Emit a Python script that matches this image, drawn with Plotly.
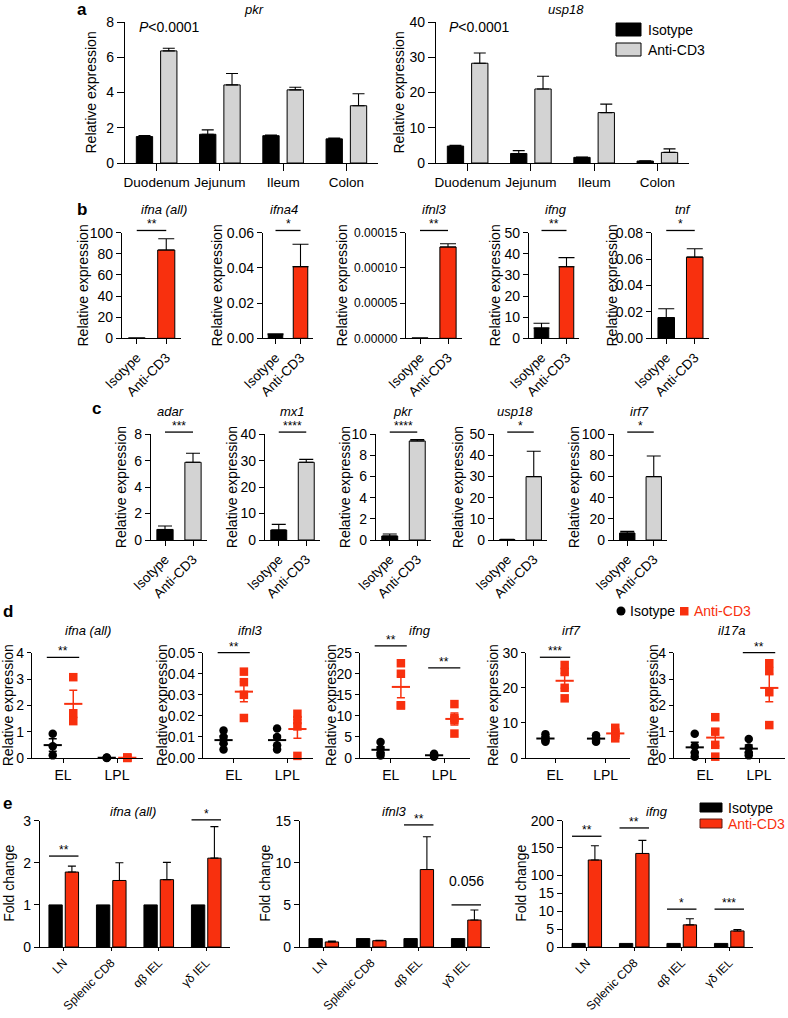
import numpy as np
import plotly.graph_objects as go

W, H = 788, 1018
FONT = "Liberation Sans, Arial, Helvetica, sans-serif"
BLACK = "#000000"
RED = "#f8300e"
GRAY = "#d3d3d3"
FS = 13

# ====================== DATA ======================
# ---- panel a ----
a_regions = ["Duodenum", "Jejunum", "Ileum", "Colon"]
a_pkr_iso = [1.50, 1.63, 1.55, 1.37]
a_pkr_iso_err = [0.06, 0.25, 0.03, 0.04]
a_pkr_cd3 = [6.36, 4.43, 4.15, 3.25]
a_pkr_cd3_err = [0.15, 0.65, 0.15, 0.68]
a_usp18_iso = [4.8, 2.7, 1.6, 0.55]
a_usp18_iso_err = [0.25, 0.8, 0.1, 0.1]
a_usp18_cd3 = [28.3, 21.0, 14.3, 3.0]
a_usp18_cd3_err = [2.9, 3.6, 2.4, 1.0]
a_genes = ["pkr", "usp18"]
a_ymax = [8, 40]
a_ystep = [2, 10]
a_pvalue = "<i>P</i>&lt;0.0001"

# ---- panel b ----
treatments = ["Isotype", "Anti-CD3"]
b_genes = ["ifna (all)", "ifna4", "ifnl3", "ifng", "tnf"]
b_iso = [0.2, 0.0021, 0.0000003, 4.9, 0.0157]
b_iso_err = [0.1, 0.0005, 0.0, 2.2, 0.0067]
b_cd3 = [83.6, 0.0407, 0.0001297, 33.9, 0.0615]
b_cd3_err = [10.6, 0.0127, 0.0000045, 4.3, 0.0063]
b_ymax = [100, 0.06, 0.00015, 50, 0.08]
b_ystep = [20, 0.02, 0.00005, 10, 0.02]
b_stars = ["**", "*", "**", "**", "*"]

# ---- panel c ----
c_genes = ["adar", "mx1", "pkr", "usp18", "irf7"]
c_iso = [0.8, 3.8, 0.38, 0.2, 6.6]
c_iso_err = [0.26, 2.1, 0.19, 0.1, 1.6]
c_cd3 = [5.88, 29.4, 9.37, 30.0, 60.0]
c_cd3_err = [0.69, 1.1, 0.13, 12.0, 19.5]
c_ymax = [8, 40, 10, 50, 100]
c_ystep = [2, 10, 2, 10, 20]
c_stars = ["***", "****", "****", "*", "*"]

# ---- panel d (individual mice; [EL, LPL]) ----
d_sites = ["EL", "LPL"]
d_genes = ["ifna (all)", "ifnl3", "ifng", "irf7", "il17a"]
d_ifna_iso = [[0.92, 0.45, 0.10], [0.02, 0.01, 0.00]]
d_ifna_cd3 = [[3.07, 1.70, 1.40], [0.02, 0.01, 0.00]]
d_ifnl3_iso = [[0.013, 0.010, 0.007, 0.004], [0.014, 0.010, 0.006, 0.004]]
d_ifnl3_cd3 = [[0.041, 0.036, 0.030, 0.019], [0.021, 0.018, 0.015, 0.001]]
d_ifng_iso = [[3.8, 2.2, 1.2, 0.6], [1.0, 0.8, 0.5, 0.3]]
d_ifng_cd3 = [[22.5, 20.0, 12.5, 12.5], [12.8, 9.5, 9.0, 5.8]]
d_irf7_iso = [[6.8, 5.8, 5.0, 4.6], [6.5, 5.8, 5.2, 4.6]]
d_irf7_cd3 = [[26.5, 24.5, 20.0, 17.0], [8.6, 7.2, 6.6, 5.6]]
d_il17a_iso = [[0.92, 0.45, 0.20, 0.05], [0.72, 0.40, 0.20, 0.10]]
d_il17a_cd3 = [[1.55, 1.00, 0.50, 0.05], [3.60, 3.30, 2.50, 1.25]]
d_ymax = [4, 0.05, 25, 30, 4]
d_ystep = [1, 0.01, 5, 10, 1]

# ---- panel e ----
e_cells = ["LN", "Splenic CD8", "αβ IEL", "γδ IEL"]
e_genes = ["ifna (all)", "ifnl3", "ifng"]
e_ifna_iso = [1, 1, 1, 1]
e_ifna_cd3 = [1.78, 1.58, 1.60, 2.11]
e_ifna_cd3_err = [0.14, 0.42, 0.41, 0.75]
e_ifnl3_iso = [1, 1, 1, 1]
e_ifnl3_cd3 = [0.60, 0.75, 9.20, 3.20]
e_ifnl3_cd3_err = [0.10, 0.04, 3.90, 1.20]
e_ifng_iso = [1, 1, 1, 1]
e_ifng_cd3 = [128, 140, 6.2, 4.5]
e_ifng_cd3_err = [26, 24, 1.7, 0.4]
e_ifng_ticks = [0, 5, 10, 15, 100, 150, 200]

# significance brackets: (subplot, from, to, height, label)
d_brackets = [(0, -0.3, 0.3, 3.82, "**"), (1, -0.3, 0.3, 0.05, "**"),
              (2, -0.3, 0.3, 26.6, "**"), (2, 0.7, 1.3, 21.4, "**"),
              (3, -0.3, 0.3, 28.7, "***"), (4, 0.7, 1.3, 4.0, "**")]
e_brackets = [(0, 0, 2.16, "**"), (0, 3, 3.02, "*"), (1, 2, 14.5, "**"),
              (1, 3, 5.0, "0.056"), (2, 0, 171.5, "**"), (2, 1, 186.7, "**"),
              (2, 2, 10.6, "*"), (2, 3, 10.6, "***")]

# ====================== LAYOUT GEOMETRY (pixels) ======================
A_BOX = [(125, 378, 22, 163), (436, 689, 22, 163)]
B_X = [(122, 181), (263, 313), (406, 462), (529, 579), (652, 709)]
B_Y = (232.7, 338.3)
C_X = [(151, 207), (265, 320), (376, 431), (494, 547), (614, 667)]
C_Y = (434.3, 540)
D_X = [(32, 143), (203, 313), (360, 470), (526, 630), (674, 785)]
D_Y = (652.7, 758)
E_X = [(40, 230), (300, 490), (563, 753)]
E_Y = (820.7, 947)

fig = go.Figure()
LAYOUT = {}
AX = {}
ANN = []
SHP = []


def px(x):
    return x / W


def py(y):
    return 1.0 - y / H


def nm(i):
    return "" if i == 1 else str(i)


def tf(size):
    return dict(family=FONT, size=size, color=BLACK)


def setup_axes(i, box, xr, yr, xextra=None, yextra=None, ticklen=5):
    x0, x1, yt, yb = box
    AX[i] = dict(box=box, xr=xr, yr=yr)
    base = dict(showline=True, linecolor=BLACK, linewidth=1.2, ticks="outside",
                ticklen=ticklen, tickwidth=1.2, tickcolor=BLACK, showgrid=False,
                zeroline=False, fixedrange=True, automargin=False,
                tickfont=tf(FS))
    xa = dict(base, domain=[px(x0), px(x1)], anchor="y" + nm(i), range=xr)
    ya = dict(base, domain=[py(yb), py(yt)], anchor="x" + nm(i), range=yr)
    if xextra:
        xa.update(xextra)
    if yextra:
        ya.update(yextra)
    LAYOUT["xaxis" + nm(i)] = xa
    LAYOUT["yaxis" + nm(i)] = ya
    return dict(xaxis="x" + nm(i), yaxis="y" + nm(i))


def to_paper(i, xv, yv):
    x0, x1, yt, yb = AX[i]["box"]
    xr, yr = AX[i]["xr"], AX[i]["yr"]
    xp = x0 + (xv - xr[0]) / (xr[1] - xr[0]) * (x1 - x0)
    yp = yb - (yv - yr[0]) / (yr[1] - yr[0]) * (yb - yt)
    return px(xp), py(yp)


def text(x, y, s, size=FS, color=BLACK, xanchor="center", angle=0):
    ANN.append(dict(x=px(x), y=py(y), xref="paper", yref="paper", text=s,
                    showarrow=False, xanchor=xanchor, yanchor="middle",
                    textangle=angle, font=dict(family=FONT, size=size, color=color)))


def bracket(i, xa, xb, yv, s):
    xa_p, y_p = to_paper(i, xa, yv)
    xb_p, _ = to_paper(i, xb, yv)
    SHP.append(dict(type="line", xref="paper", yref="paper", x0=xa_p, x1=xb_p,
                    y0=y_p, y1=y_p, line=dict(color=BLACK, width=1.3)))
    is_num = s[0].isdigit()
    ANN.append(dict(x=(xa_p + xb_p) / 2, y=y_p, xref="paper", yref="paper", text=s,
                    showarrow=False, xanchor="center", yanchor="middle",
                    yshift=24 if is_num else 6,
                    font=dict(family=FONT, size=FS + 1 if is_num else 12, color=BLACK)))


def add_bar(ref, cats, vals, errs, color, w, off, cap):
    n = len(cats)
    if errs is None:
        eb = dict(visible=False)
    else:
        eb = dict(type="data", symmetric=False, array=errs, arrayminus=[0] * n,
                  color=BLACK, thickness=1.1, width=cap)
    fig.add_trace(go.Bar(x=cats, y=vals, width=w, offset=off, error_y=eb,
                         marker=dict(color=color, line=dict(color=BLACK, width=1)),
                         showlegend=False, hoverinfo="skip", **ref))


def cat_range(n):
    return [-0.5, n - 0.5]


idx = 0

# ---------------- panel a ----------------
a_sets = [(a_pkr_iso, a_pkr_iso_err, a_pkr_cd3, a_pkr_cd3_err),
          (a_usp18_iso, a_usp18_iso_err, a_usp18_cd3, a_usp18_cd3_err)]
AW, AG = 0.258, 0.126
a_title = [(254, 9), (566, 9)]
a_ylab = [91, 399]
a_pv = [(137, 27), (447, 27)]
for k in range(2):
    idx += 1
    iso, iso_e, cd3, cd3_e = a_sets[k]
    ref = setup_axes(idx, A_BOX[k], cat_range(len(a_regions)), [0, a_ymax[k]],
                     xextra=dict(type="category", tickangle=0, tickfont=tf(13.5)),
                     yextra=dict(tickmode="linear", tick0=0, dtick=a_ystep[k],
                                 tickfont=tf(14)),
                     ticklen=7)
    add_bar(ref, a_regions, iso, iso_e, BLACK, AW, -(AG / 2 + AW), 6)
    add_bar(ref, a_regions, cd3, cd3_e, GRAY, AW, AG / 2, 6)
    text(*a_title[k], "<i>%s</i>" % a_genes[k])
    text(a_ylab[k], (A_BOX[k][2] + A_BOX[k][3]) / 2, "Relative expression", size=14, angle=-90)
    text(a_pv[k][0], a_pv[k][1], a_pvalue, size=14, xanchor="left")

# legend a
SHP.append(dict(type="rect", xref="paper", yref="paper", x0=px(616), x1=px(641),
                y0=py(36), y1=py(23), fillcolor=BLACK, line=dict(color=BLACK, width=1)))
SHP.append(dict(type="rect", xref="paper", yref="paper", x0=px(616), x1=px(641),
                y0=py(56), y1=py(43), fillcolor=GRAY, line=dict(color=BLACK, width=1)))
text(646, 29.5, treatments[0], size=14, xanchor="left")
text(646, 49.5, treatments[1], size=14, xanchor="left")


# ---------------- panels b, c (single bars) ----------------
def single_panel(boxx, boxy, gene, iso, iso_e, cd3, cd3_e, color, ymax, ystep,
                 star, tfmt, title_x, title_y, ylab_x, cap, yfs):
    global idx
    idx += 1
    box = (boxx[0], boxx[1], boxy[0], boxy[1])
    ref = setup_axes(idx, box, cat_range(2), [0, ymax],
                     xextra=dict(type="category", tickangle=-45, tickfont=tf(13.5)),
                     yextra=dict(tickmode="linear", tick0=0, dtick=ystep, tickformat=tfmt,
                                 tickfont=tf(yfs)))
    BW = 0.58
    add_bar(ref, [treatments[0]], [iso], [iso_e], BLACK, BW, -BW / 2, cap)
    add_bar(ref, [treatments[1]], [cd3], [cd3_e], color, BW, -BW / 2, cap)
    text(title_x, title_y, "<i>%s</i>" % gene)
    text(ylab_x, (boxy[0] + boxy[1]) / 2, "Relative expression", size=14, angle=-90)
    bracket(idx, 0, 1, ymax * 1.021, star)


b_fmt = ["", ".2f", ".5f", "", ".2f"]
b_tickfs = [14, 14, 12, 14, 14]
b_title_x = [164, 284, 435, 556, 683]
b_ylab_x = [83, 217, 342, 495, 612]
for k in range(5):
    single_panel(B_X[k], B_Y, b_genes[k], b_iso[k], b_iso_err[k], b_cd3[k], b_cd3_err[k],
                 RED, b_ymax[k], b_ystep[k], b_stars[k], b_fmt[k], b_title_x[k], 209,
                 b_ylab_x[k], 8, b_tickfs[k])

c_title_x = [170, 292, 403, 515, 639]
c_ylab_x = [121, 232, 345, 458, 574]
for k in range(5):
    single_panel(C_X[k], C_Y, c_genes[k], c_iso[k], c_iso_err[k], c_cd3[k], c_cd3_err[k],
                 GRAY, c_ymax[k], c_ystep[k], c_stars[k], "", c_title_x[k], 411,
                 c_ylab_x[k], 7, 14)

# ---------------- panel d (dot plots) ----------------
d_iso_all = [d_ifna_iso, d_ifnl3_iso, d_ifng_iso, d_irf7_iso, d_il17a_iso]
d_cd3_all = [d_ifna_cd3, d_ifnl3_cd3, d_ifng_cd3, d_irf7_cd3, d_il17a_cd3]
d_fmt = ["", ".2f", "", "", ""]
d_title_x = [88, 250, 420, 571, 731]
d_ylab_x = [8, 162, 331, 493, 653]
D_XR = [-0.574, 1.481]
DOFF = 0.19
d_first = idx + 1


def dot_group(ref, xpos, pts, color, symbol):
    fig.add_trace(go.Scatter(x=[xpos] * len(pts), y=pts, mode="markers",
                             marker=dict(symbol=symbol, size=8.5, color=color),
                             cliponaxis=False, showlegend=False, hoverinfo="skip", **ref))
    m = float(np.mean(pts))
    sem = float(np.std(pts, ddof=1) / np.sqrt(len(pts)))
    fig.add_trace(go.Scatter(x=[xpos], y=[m], mode="markers",
                             marker=dict(symbol="line-ew", size=13, color=color,
                                         line=dict(color=color, width=2)),
                             error_y=dict(type="data", array=[sem], color=color,
                                          thickness=1.5, width=4),
                             cliponaxis=False, showlegend=False, hoverinfo="skip", **ref))


for k in range(5):
    idx += 1
    box = (D_X[k][0], D_X[k][1], D_Y[0], D_Y[1])
    ref = setup_axes(idx, box, D_XR, [0, d_ymax[k]],
                     xextra=dict(tickmode="array", tickvals=list(range(len(d_sites))),
                                 ticktext=d_sites, tickfont=tf(14)),
                     yextra=dict(tickmode="linear", tick0=0, dtick=d_ystep[k],
                                 tickformat=d_fmt[k], tickfont=tf(14)), ticklen=4)
    for s in range(len(d_sites)):
        dot_group(ref, s - DOFF, d_iso_all[k][s], BLACK, "circle")
        dot_group(ref, s + DOFF, d_cd3_all[k][s], RED, "square")
    text(d_title_x[k], 630, "<i>%s</i>" % d_genes[k])
    text(d_ylab_x[k], (D_Y[0] + D_Y[1]) / 2, "Relative expression", size=14, angle=-90)

for (k, xa, xb, yv, s) in d_brackets:
    bracket(d_first + k, xa, xb, yv, s)

# legend d
SHP.append(dict(type="circle", xref="paper", yref="paper", x0=px(616.5), x1=px(625.5),
                y0=py(615.5), y1=py(606.5), fillcolor=BLACK, line=dict(color=BLACK, width=0)))
SHP.append(dict(type="rect", xref="paper", yref="paper", x0=px(680), x1=px(688.5),
                y0=py(615.5), y1=py(607), fillcolor=RED, line=dict(color=RED, width=0)))
text(628, 611, treatments[0], size=14, xanchor="left")
text(692, 611, treatments[1], size=14, color=RED, xanchor="left")

# ---------------- panel e ----------------
EW, EG = 0.28, 0.063
e_title_x = [133, 394, 657]
e_ylab_x = [9, 265, 521]
e_first = idx + 1
E_XTICK = dict(type="category", tickangle=-45, tickfont=tf(12), ticklen=3)

# broken axis for ifng: lower segment 0-15, upper segment 100-200
F_LOW = 54.0 / 127.3
F_GAP = 18.3 / 127.3
F_HIGH = 55.0 / 127.3


def brk(v):
    v = np.asarray(v, dtype=float)
    return np.where(v <= 15, v / 15.0 * F_LOW, F_LOW + F_GAP + (v - 100.0) / 100.0 * F_HIGH)


e_sets = [(e_ifna_iso, e_ifna_cd3, e_ifna_cd3_err, 3, 1),
          (e_ifnl3_iso, e_ifnl3_cd3, e_ifnl3_cd3_err, 15, 5)]
for k in range(2):
    idx += 1
    iso, cd3, cd3_e, ymax, step = e_sets[k]
    box = (E_X[k][0], E_X[k][1], E_Y[0], E_Y[1])
    ref = setup_axes(idx, box, cat_range(len(e_cells)), [0, ymax],
                     xextra=E_XTICK,
                     yextra=dict(tickmode="linear", tick0=0, dtick=step, tickfont=tf(14)))
    add_bar(ref, e_cells, iso, None, BLACK, EW, -(EG / 2 + EW), 4)
    add_bar(ref, e_cells, cd3, cd3_e, RED, EW, EG / 2, 4)

idx += 1
box = (E_X[2][0], E_X[2][1], E_Y[0], E_Y[1])
ref = setup_axes(idx, box, cat_range(len(e_cells)), [0, 1],
                 xextra=E_XTICK,
                 yextra=dict(tickmode="array", tickvals=brk(e_ifng_ticks).tolist(),
                             ticktext=[str(t) for t in e_ifng_ticks], tickfont=tf(14)))
iso_t = brk(e_ifng_iso)
cd3_t = brk(e_ifng_cd3)
cd3_et = brk(np.array(e_ifng_cd3) + np.array(e_ifng_cd3_err)) - cd3_t
add_bar(ref, e_cells, iso_t.tolist(), None, BLACK, EW, -(EG / 2 + EW), 4)
add_bar(ref, e_cells, cd3_t.tolist(), cd3_et.tolist(), RED, EW, EG / 2, 4)

for k in range(3):
    text(e_title_x[k], 811, "<i>%s</i>" % e_genes[k])
    text(e_ylab_x[k], (E_Y[0] + E_Y[1]) / 2, "Fold change", size=14, angle=-90)

for (k, c, yv, s) in e_brackets:
    yy = float(brk(yv)) if k == 2 else yv
    bracket(e_first + k, c - 0.31, c + 0.31, yy, s)

# legend e
SHP.append(dict(type="rect", xref="paper", yref="paper", x0=px(700), x1=px(722),
                y0=py(812), y1=py(803), fillcolor=BLACK, line=dict(color=BLACK, width=1)))
SHP.append(dict(type="rect", xref="paper", yref="paper", x0=px(700), x1=px(722),
                y0=py(828), y1=py(819), fillcolor=RED, line=dict(color="#5a1a10", width=1)))
text(726, 807.5, treatments[0], size=14, xanchor="left")
text(726, 823.5, treatments[1], size=14, color=RED, xanchor="left")

# panel letters
for (lx, ly, lt) in [(82, 10, "a"), (82, 209, "b"), (96, 408, "c"), (8, 611, "d"), (7, 803, "e")]:
    text(lx, ly, "<b>%s</b>" % lt, size=17)

fig.update_layout(
    width=W, height=H, margin=dict(l=0, r=0, t=0, b=0, autoexpand=False),
    paper_bgcolor="white", plot_bgcolor="white",
    barmode="group", showlegend=False,
    font=dict(family=FONT, size=FS, color=BLACK),
    annotations=ANN, shapes=SHP, **LAYOUT)

fig.write_html("out.html", config={"displayModeBar": False},
               post_script="document.body.style.margin='0px';"
                           "document.body.style.overflow='hidden';")
